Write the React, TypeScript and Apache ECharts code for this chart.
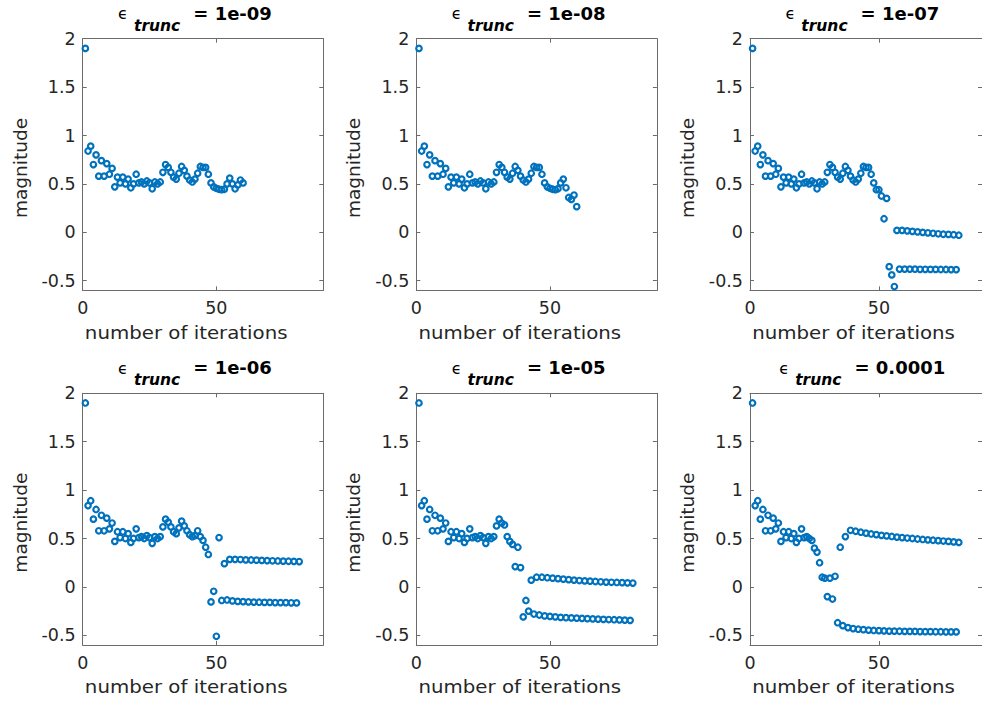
import React, { useEffect, useRef } from 'react';
import * as echarts from 'echarts';

// epsilon_trunc value of each panel
const truncLabels = ['1e-09', '1e-08', '1e-07', '1e-06', '1e-05', '0.0001'];

// magnitudes, iterations 1-23 (all panels)
const sharedA = [1.90, 0.84, 0.89, 0.70, 0.80, 0.58, 0.74, 0.58, 0.71, 0.60, 0.66, 0.47, 0.57, 0.51, 0.57, 0.50, 0.55, 0.46, 0.50, 0.60, 0.51, 0.52, 0.50];
// iterations 24-29 (panels 1-5)
const sharedB = [0.53, 0.51, 0.45, 0.52, 0.50, 0.52];
// iterations 30-36 (panels 1-4)
const sharedC = [0.62, 0.70, 0.67, 0.62, 0.57, 0.55, 0.61];
// iterations 37-47 (panels 1-3)
const sharedD = [0.68, 0.64, 0.58, 0.54, 0.52, 0.55, 0.61, 0.68, 0.67, 0.67, 0.60];

// panel 1 (1e-09), iterations 48-60
const tail1 = [0.51, 0.47, 0.455, 0.445, 0.44, 0.445, 0.50, 0.56, 0.50, 0.45, 0.49, 0.54, 0.51];
// panel 2 (1e-08), iterations 48-60
const tail2 = [0.51, 0.47, 0.455, 0.445, 0.44, 0.45, 0.51, 0.55, 0.46, 0.36, 0.34, 0.385, 0.265];
// panel 3 (1e-07), iterations 48-81
const tail3 = [0.51, 0.44, 0.44, 0.375, 0.14, 0.35, -0.355, -0.44, -0.56,
  0.02, -0.38, 0.02, -0.38, 0.015, -0.38, 0.01, -0.381, 0.005, -0.382, 0.0, -0.382, -0.005,
  -0.383, -0.01, -0.383, -0.015, -0.384, -0.02, -0.384, -0.022, -0.385, -0.025, -0.385, -0.03];
// panel 4 (1e-06), iterations 37-81
const tail4 = [0.68, 0.63, 0.58, 0.54, 0.52, 0.53, 0.58, 0.52, 0.48, 0.41, 0.335,
  -0.155, -0.045, -0.51, 0.51, -0.14, 0.24, -0.135, 0.285, -0.145, 0.285, -0.15, 0.283,
  -0.152, 0.28, -0.155, 0.278, -0.157, 0.276, -0.158, 0.274, -0.16, 0.272, -0.16, 0.27,
  -0.162, 0.268, -0.162, 0.266, -0.163, 0.265, -0.164, 0.264, -0.165, 0.262];
// panel 5 (1e-05), iterations 30-81
const tail5 = [0.63, 0.70, 0.66, 0.64, 0.52, 0.47, 0.44, 0.21, 0.41, 0.20,
  -0.31, -0.14, -0.25, 0.07, -0.28, 0.10, -0.29, 0.10, -0.30, 0.095, -0.305, 0.09, -0.31,
  0.085, -0.315, 0.08, -0.318, 0.075, -0.32, 0.07, -0.323, 0.066, -0.325, 0.062, -0.328,
  0.059, -0.33, 0.056, -0.333, 0.053, -0.335, 0.05, -0.337, 0.048, -0.339, 0.046, -0.341,
  0.044, -0.343, 0.042, -0.345, 0.04];
// panel 6 (0.0001), iterations 24-81
const tail6 = [0.48, 0.40, 0.36, 0.25, 0.10, 0.09, -0.10, 0.09, -0.125, 0.11,
  -0.37, 0.41, -0.40, 0.52, -0.42, 0.585, -0.43, 0.575, -0.437, 0.565, -0.442, 0.555,
  -0.446, 0.547, -0.45, 0.54, -0.452, 0.533, -0.454, 0.527, -0.456, 0.521, -0.457, 0.515,
  -0.458, 0.51, -0.459, 0.505, -0.46, 0.50, -0.46, 0.495, -0.461, 0.49, -0.462, 0.486,
  -0.462, 0.482, -0.463, 0.478, -0.463, 0.474, -0.464, 0.47, -0.464, 0.465, -0.465, 0.46];

const panels = [
  [...sharedA, ...sharedB, ...sharedC, ...sharedD, ...tail1],
  [...sharedA, ...sharedB, ...sharedC, ...sharedD, ...tail2],
  [...sharedA, ...sharedB, ...sharedC, ...sharedD, ...tail3],
  [...sharedA, ...sharedB, ...sharedC, ...tail4],
  [...sharedA, ...sharedB, ...tail5],
  [...sharedA, ...tail6],
];

const xTicks = [0, 50];
const yTicks = [-0.5, 0, 0.5, 1, 1.5, 2];
const xLabel = 'number of iterations';
const yLabel = 'magnitude';

const W = 982;
const H = 702;
const colLeft = [82.7, 416.3, 750];
const rowTop = [38.7, 393.3];
const gridW = 240.6;
const gridH = 251.7;
const rowShift = 354.6;

const axisColor = '#6b6b6b';
const textColor = '#262626';
const FONT = '"DejaVu Sans", sans-serif';

function measure(text: string, font: string): number {
  const c = document.createElement('canvas').getContext('2d');
  if (!c) return text.length * 8;
  c.font = font;
  return c.measureText(text).width;
}

function xAx(g: number, pos: 'bottom' | 'top') {
  return {
    type: 'value',
    gridIndex: g,
    position: pos,
    min: 0,
    max: 90,
    axisLine: { show: true, onZero: false, lineStyle: { color: axisColor, width: 1 } },
    axisTick: { show: true, inside: true, length: 4, customValues: xTicks, lineStyle: { color: axisColor, width: 1 } },
    axisLabel: {
      show: pos === 'bottom',
      customValues: xTicks,
      margin: 9,
      color: textColor,
      fontFamily: FONT,
      fontSize: 17.5,
    },
    splitLine: { show: false },
  };
}

function yAx(g: number, pos: 'left' | 'right') {
  return {
    type: 'value',
    gridIndex: g,
    position: pos,
    min: -0.6,
    max: 2,
    axisLine: { show: true, onZero: false, lineStyle: { color: axisColor, width: 1 } },
    axisTick: { show: true, inside: true, length: 4, customValues: yTicks, lineStyle: { color: axisColor, width: 1 } },
    axisLabel: {
      show: pos === 'left',
      customValues: yTicks,
      margin: 7,
      color: textColor,
      fontFamily: FONT,
      fontSize: 17.5,
      formatter: (v: number) => String(v),
    },
    splitLine: { show: false },
  };
}

export default function App() {
  const ref = useRef<HTMLDivElement>(null);

  useEffect(() => {
    if (!ref.current) return;
    const chart = echarts.init(ref.current, undefined, { renderer: 'svg', width: W, height: H });

    const grids: any[] = [];
    const xAxes: any[] = [];
    const yAxes: any[] = [];
    const series: any[] = [];
    const graphics: any[] = [];

    const eFont = `16px ${FONT}`;
    const sFont = `italic bold 15.5px ${FONT}`;
    const vFont = `bold 18px ${FONT}`;
    const gap1 = 6;
    const gap2 = 13;

    panels.forEach((vals, k) => {
      const col = k % 3;
      const row = Math.floor(k / 3);
      const left = colLeft[col];
      const top = rowTop[row];
      grids.push({ left, top, width: gridW, height: gridH, containLabel: false });
      xAxes.push(xAx(k, 'bottom'));
      xAxes.push(xAx(k, 'top'));
      yAxes.push(yAx(k, 'left'));
      yAxes.push(yAx(k, 'right'));
      series.push({
        type: 'scatter',
        xAxisIndex: k * 2,
        yAxisIndex: k * 2,
        data: vals.map((v, i) => [i + 1, v]),
        symbol: 'circle',
        symbolSize: 5.5,
        silent: true,
        itemStyle: { color: 'rgba(0,0,0,0)', borderColor: '#0072BD', borderWidth: 2.2, opacity: 1 },
        emphasis: { disabled: true },
      });

      // title: epsilon_trunc = value
      const dy = row * rowShift;
      const vText = '= ' + truncLabels[k];
      const we = measure('ϵ', eFont);
      const ws = measure('trunc', sFont);
      const wv = measure(vText, vFont);
      const total = we + gap1 + ws + gap2 + wv;
      const cx = left + 112.3;
      const x0 = cx - total / 2;
      graphics.push({
        type: 'text', x: x0, y: 19 - 0.346 * 16 + dy, silent: true,
        style: { text: 'ϵ', fontSize: 16, fontFamily: FONT, fill: '#000', align: 'left', verticalAlign: 'middle' },
      });
      graphics.push({
        type: 'text', x: x0 + we + gap1, y: 31.2 - 0.346 * 15.5 + dy, silent: true,
        style: { text: 'trunc', fontSize: 15.5, fontStyle: 'italic', fontWeight: 'bold', fontFamily: FONT, fill: '#000', align: 'left', verticalAlign: 'middle' },
      });
      graphics.push({
        type: 'text', x: x0 + we + gap1 + ws + gap2, y: 19.5 - 0.346 * 18 + dy, silent: true,
        style: { text: vText, fontSize: 18, fontWeight: 'bold', fontFamily: FONT, fill: '#000', align: 'left', verticalAlign: 'middle' },
      });

      // x label
      graphics.push({
        type: 'text', x: left + 103.5, y: 339 - 0.346 * 18.5 + dy, scaleX: 1.07, silent: true,
        style: { text: xLabel, fontSize: 18.5, fontFamily: FONT, fill: textColor, align: 'center', verticalAlign: 'middle' },
      });
      // y label
      graphics.push({
        type: 'text', x: left - 62.7, y: 168 + dy, rotation: Math.PI / 2, silent: true,
        style: { text: yLabel, fontSize: 18.5, fontFamily: FONT, fill: textColor, align: 'center', verticalAlign: 'middle' },
      });
    });

    chart.setOption({
      animation: false,
      backgroundColor: '#ffffff',
      grid: grids,
      xAxis: xAxes,
      yAxis: yAxes,
      series,
      graphic: graphics,
    });

    return () => {
      chart.dispose();
    };
  }, []);

  return (
    <div
      ref={ref}
      style={{ position: 'fixed', left: 0, top: 0, width: W, height: H, background: '#fff' }}
    />
  );
}
